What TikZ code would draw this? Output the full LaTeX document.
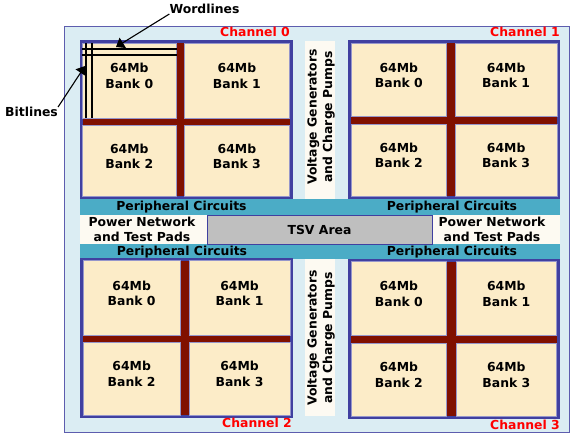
\documentclass[tikz,border=0pt]{standalone}
\usepackage{fontspec}
\setmainfont{DejaVu Sans}
\usepackage{tikz}
\usetikzlibrary{arrows.meta,fit}
\definecolor{chipcol}{RGB}{219,237,243}
\definecolor{framecol}{RGB}{64,64,160}
\definecolor{bankcol}{RGB}{252,236,200}
\definecolor{barcol}{RGB}{128,16,0}
\definecolor{pericol}{RGB}{75,172,198}
\definecolor{padcol}{RGB}{253,250,242}
\definecolor{tsvcol}{RGB}{191,191,191}
\def\lbl{\fontsize{12.4}{15.5}\selectfont\bfseries}

\begin{document}
\begin{tikzpicture}[
  x=1pt, y=-1pt,
  >={Triangle[width=12pt,length=8pt]},
  chip/.style={draw=framecol!85, line width=0.9pt, fill=chipcol},
  chan/.style={draw=framecol, line width=3pt, fill=barcol},
  bank/.style={draw=framecol!55, line width=0.7pt, fill=bankcol, inner sep=0pt,
               align=center, font=\lbl},
  peri/.style={fill=pericol},
  pad/.style={fill=padcol},
  tsv/.style={draw=framecol, line width=0.9pt, fill=tsvcol},
  txt/.style={font=\lbl, align=center, inner sep=0pt},
  chname/.style={font=\lbl, text=red, inner sep=0pt},
  wire/.style={line width=1.6pt, black},
  e/.style={->, line width=1.1pt},
]
\useasboundingbox (0,0) rectangle (571,437);
\draw[chip] (64,26) rectangle (569,432);

% voltage columns, peripheral bands, middle row
\fill[pad] (305,41) rectangle (335,199);
\fill[pad] (305,258) rectangle (335,416);
\fill[peri] (80,199) rectangle (560,215);
\fill[peri] (80,244) rectangle (560,259);
\fill[pad] (80,215) rectangle (560,244);
\draw[tsv] (207.5,215) rectangle (432,244);

% channel frames
\draw[chan] (81,41.5) rectangle (291,197.5);
\draw[chan] (349.7,41.5) rectangle (558.7,197.5);
\draw[chan] (81.7,259.5) rectangle (291.7,416.3);
\draw[chan] (349.7,260.5) rectangle (558,417.7);

% banks
\node[bank, fit={(82.5,43) (176,118.3)}]   (c0b0) {64Mb\\Bank 0};
\node[bank, fit={(184.3,43) (289.5,118.3)}] (c0b1) {64Mb\\Bank 1};
\node[bank, fit={(82.5,125.7) (176,196)}]  (c0b2) {64Mb\\Bank 2};
\node[bank, fit={(184.3,125.7) (289.5,196)}] (c0b3) {64Mb\\Bank 3};

\node[bank, fit={(351,43) (446.7,116.7)}]  (c1b0) {64Mb\\Bank 0};
\node[bank, fit={(455,43) (557.3,116.7)}]  (c1b1) {64Mb\\Bank 1};
\node[bank, fit={(351,124) (446.7,196)}]   (c1b2) {64Mb\\Bank 2};
\node[bank, fit={(455,124) (557.3,196)}]   (c1b3) {64Mb\\Bank 3};

\node[bank, fit={(83.3,260.7) (180,335)}]  (c2b0) {64Mb\\Bank 0};
\node[bank, fit={(189,260.7) (290,335)}]   (c2b1) {64Mb\\Bank 1};
\node[bank, fit={(83.3,342.3) (180,415)}]  (c2b2) {64Mb\\Bank 2};
\node[bank, fit={(189,342.3) (290,415)}]   (c2b3) {64Mb\\Bank 3};

\node[bank, fit={(351,261.7) (446.7,335)}] (c3b0) {64Mb\\Bank 0};
\node[bank, fit={(456,261.7) (556.7,335)}] (c3b1) {64Mb\\Bank 1};
\node[bank, fit={(351,343.3) (446.7,416.3)}] (c3b2) {64Mb\\Bank 2};
\node[bank, fit={(456,343.3) (556.7,416.3)}] (c3b3) {64Mb\\Bank 3};

% wordlines / bitlines
\draw[wire] (82,49) -- (177,49);
\draw[wire] (82,55) -- (177,55);
\draw[wire] (86,43) -- (86,118);
\draw[wire] (92,43) -- (92,118);
\coordinate (wl) at (116,47);
\coordinate (bl) at (85,66);

% labels
\node[txt] (pc0) at (181.5,207) {Peripheral Circuits};
\node[txt] (pc1) at (452,207) {Peripheral Circuits};
\node[txt] (pc2) at (182,252) {Peripheral Circuits};
\node[txt] (pc3) at (452,252) {Peripheral Circuits};
\node[txt] (pw0) at (142,229.5) {Power Network\\and Test Pads};
\node[txt] (pw1) at (492,229.5) {Power Network\\and Test Pads};
\node[txt] (tsv) at (319.5,230) {TSV Area};
\node[txt, rotate=90] (vg0) at (321,117) {Voltage Generators\\and Charge Pumps};
\node[txt, rotate=90] (vg1) at (321,338) {Voltage Generators\\and Charge Pumps};
\node[chname] (ch0) at (255,32) {Channel 0};
\node[chname] (ch1) at (525,32) {Channel 1};
\node[chname] (ch2) at (257,423) {Channel 2};
\node[chname] (ch3) at (525,425) {Channel 3};
\node[txt] (wlt) at (204.5,9) {Wordlines};
\node[txt] (blt) at (31.5,112) {Bitlines};

\draw[e] (wlt.south west) -- (wl);
\draw[e] (blt.north east) -- (bl);
\end{tikzpicture}
\end{document}
